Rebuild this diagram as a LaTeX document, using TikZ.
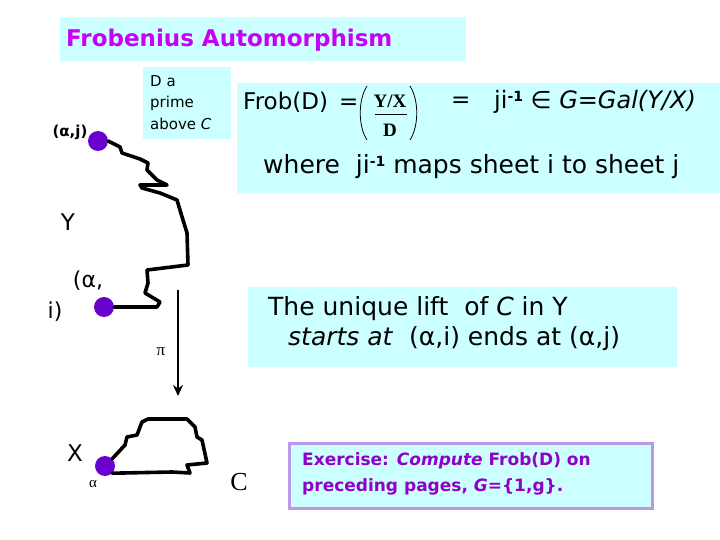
\documentclass[tikz,border=0pt]{standalone}
\usepackage{fontspec}
\setmainfont{DejaVu Sans}
\newfontfamily\serif{Liberation Serif}
\usetikzlibrary{arrows.meta}
\definecolor{boxcyan}{HTML}{CCFFFF}
\definecolor{titlepurple}{HTML}{C800F4}
\definecolor{expurple}{HTML}{9000C8}
\definecolor{dotpurple}{HTML}{6A00CC}
\definecolor{lavender}{HTML}{B898E8}
\newcommand{\supm}{\raisebox{0.55ex}{\fontsize{14}{14}\selectfont\bfseries -1}}
\tikzset{
  box/.style={fill=boxcyan, draw=none, anchor=north west, inner sep=0pt},
  txt/.style={inner sep=0pt, anchor=west},
  dot/.style={circle, fill=dotpurple, draw=none, minimum size=20pt, inner sep=0pt},
  curve/.style={line width=3.6pt, line join=round, line cap=round, black},
}
\begin{document}
\begin{tikzpicture}[x=1pt,y=-1pt]
\useasboundingbox (0,0) rectangle (720,540);
\fill[white] (0,0) rectangle (720,540);

% boxes
\node[box, minimum width=406pt, minimum height=44pt] (tbox) at (60,17) {};
\node[box, minimum width=88pt, minimum height=72pt] (dbox) at (143,67) {};
\node[box, minimum width=483pt, minimum height=110pt] (fbox) at (237,83) {};
\node[box, minimum width=429pt, minimum height=80pt] (lbox) at (248,287) {};
\node[box, draw=lavender, line width=2.5pt, minimum width=363pt, minimum height=65pt] (ebox) at (288,442) {};

% title
\node[txt, text=titlepurple, font=\fontsize{23}{26}\selectfont\bfseries] (title) at (66,40) {Frobenius Automorphism};

% D a prime above C
\node[txt, anchor=north west, align=left, font=\fontsize{15}{21.5}\selectfont] (dtext) at (150,75) {D a\\prime\\above \textit{C}};

% Frob formula
\node[txt, font=\fontsize{23}{26}\selectfont] (frob) at (243,102) {Frob(D) \,=};
\node[inner sep=0pt, font=\serif\bfseries\fontsize{19}{20}\selectfont] (yx) at (390,101) {Y/X};
\node[inner sep=0pt, font=\serif\bfseries\fontsize{19}{20}\selectfont] (dd) at (390,130) {D};
\draw[line width=0.8pt] (375,114) -- (407,114);
\draw[line width=0.8pt] (367,86) .. controls (358,100) and (358,126) .. (367,140);
\draw[line width=0.8pt] (410,86) .. controls (419,100) and (419,126) .. (410,140);
\node[txt, font=\fontsize{23}{26}\selectfont] (eq2) at (451,102) {=};
\node[txt, font=\fontsize{24}{26}\selectfont] (ji) at (494,102) {ji\supm{} ∈ \textit{G}=\textit{Gal(Y/X)}};
\node[txt, font=\fontsize{25}{26}\selectfont] (where) at (263,167) {where \ ji\supm{} maps sheet i to sheet j};

% lift text
\node[txt, anchor=north west, align=left, font=\fontsize{25}{30}\selectfont] (lift) at (268,296) {The unique lift \ of \textit{C} in Y\\\hspace*{20pt}\textit{starts at} \ (α,i) ends at (α,j)};

% exercise text
\node[txt, anchor=north west, align=left, text=expurple, font=\fontsize{17}{26}\selectfont\bfseries] (ex) at (302,452) {Exercise: \textit{Compute} Frob(D) on\\preceding pages, \textit{G}=\{1,g\}.};

% dots
\node[dot] (dj) at (98,141) {};
\node[dot] (di) at (104,307) {};
\node[dot] (da) at (105,466) {};

% labels
\node[font=\fontsize{15}{16}\selectfont\bfseries] (lj) at (70,132) {(α,j)};
\node[font=\fontsize{23}{26}\selectfont] (lY) at (68,222) {Y};
\node[font=\fontsize{22}{26}\selectfont] (li1) at (88,281) {(α,};
\node[font=\fontsize{22}{26}\selectfont] (li2) at (55,312) {i)};
\node[font=\fontsize{23}{26}\selectfont] (lX) at (75,453) {X};
\node[font=\serif\fontsize{15}{16}\selectfont] (la) at (93,484) {α};
\node[font=\serif\fontsize{26}{28}\selectfont] (lC) at (239,482) {C};
\node[font=\serif\fontsize{17}{18}\selectfont] (lpi) at (161,352) {π};

% upper lift curve
\draw[curve] (dj.east) -- (120,147) -- (122,153) -- (140,159) -- (148,163) -- (147,170) -- (157,180) -- (167,185) -- (140,185) -- (142,188) -- (160,193) -- (177,200) -- (183,220) -- (187,233) -- (188,265) -- (147,270) -- (148,283) -- (145,293) -- (160,302) -- (157,307) -- (di.east);

% lower loop C
\draw[curve] (da.north east) -- (125,445) -- (127,437) -- (137,435) -- (142,422) -- (148,419) -- (187,419) -- (195,427) -- (197,437) -- (202,440) -- (207,463) -- (187,465) -- (190,473) -- (172,472) -- (da.south east);

% projection arrow
\coordinate (ptop) at (178,290);
\coordinate (pbot) at (178,396);
\draw[line width=2.5pt, -{Stealth[length=11pt,width=10pt]}] (ptop) -- (pbot);
\end{tikzpicture}
\end{document}
